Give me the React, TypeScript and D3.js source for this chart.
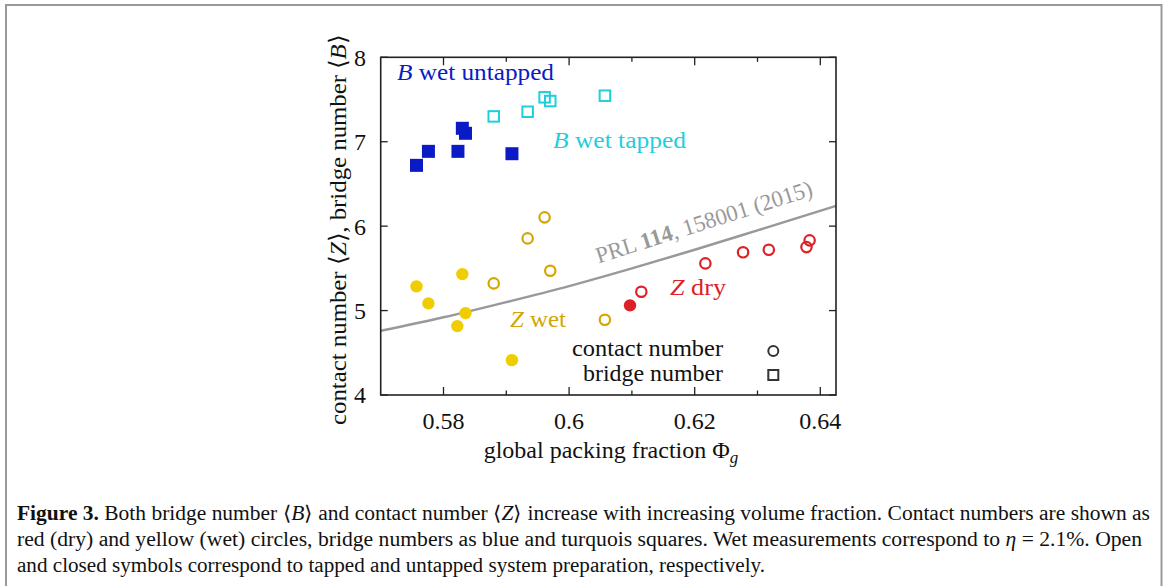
import React from "react";
import * as d3 from "d3";

// ---- data ----
const bUntappedPhi = [0.5757, 0.5776, 0.5823, 0.583, 0.5835, 0.5909];
const bUntappedB = [6.72, 6.886, 6.886, 7.159, 7.1, 6.858];
const bTappedPhi = [0.588, 0.5934, 0.5961, 0.597, 0.6057];
const bTappedB = [7.3, 7.355, 7.526, 7.482, 7.545];
const zWetUntappedPhi = [0.5757, 0.5776, 0.583, 0.5835, 0.5822, 0.5909];
const zWetUntappedZ = [5.287, 5.085, 5.432, 4.97, 4.816, 4.413];
const zWetTappedPhi = [0.588, 0.5934, 0.5961, 0.597, 0.6057];
const zWetTappedZ = [5.322, 5.855, 6.104, 5.472, 4.891];
const zDryUntappedPhi = [0.6097];
const zDryUntappedZ = [5.062];
const zDryTappedPhi = [0.6115, 0.6217, 0.6277, 0.6318, 0.6378, 0.6383];
const zDryTappedZ = [5.223, 5.559, 5.69, 5.72, 5.752, 5.832];
const prlPhi = [0.57, 0.58, 0.59, 0.6, 0.61, 0.62, 0.63, 0.6425];
const prlZ = [4.76, 4.92, 5.1, 5.29, 5.5, 5.72, 5.95, 6.24];

const xTicks = [0.58, 0.59, 0.6, 0.61, 0.62, 0.63, 0.64];
const xTickLabels = ["0.58", "", "0.6", "", "0.62", "", "0.64"];
const yTicks = [4, 5, 6, 7, 8];

const BLUE = "#0a1bc6";
const CYAN = "#1fcfdc";
const YELLOW = "#f0cd00";
const GOLD = "#d4a600";
const RED = "#dc2226";
const GRAY = "#999999";
const SERIF = '"Liberation Serif", "Times New Roman", serif';

export default function App() {
  const L = 380.7, R = 836, T = 57.3, B = 395;
  const x = d3.scaleLinear().domain([0.57, 0.6425]).range([L, R]);
  const y = d3.scaleLinear().domain([4, 8]).range([B, T]);
  const line = d3
    .line<number>()
    .x((_, i) => x(prlPhi[i]))
    .y((d) => y(d))
    .curve(d3.curveMonotoneX);

  const sq = 13;
  const osq = 10.5;

  return (
    <svg
      width={1166}
      height={586}
      style={{ position: "fixed", left: 0, top: 0, background: "#fff", fontFamily: SERIF }}
    >
      <rect x={0} y={0} width={1166} height={586} fill="#fff" />
      <rect x={6} y={5} width={1155.5} height={700} fill="none" stroke={GRAY} strokeWidth={2} />

      {/* PRL curve */}
      <path d={line(prlZ) || ""} fill="none" stroke={GRAY} strokeWidth={2.5} />
      <text transform={`translate(598.5,263.5) rotate(-17.6)`} fontSize={23} fill={GRAY} textLength={226} lengthAdjust="spacingAndGlyphs">
        PRL <tspan fontWeight="bold">114</tspan>, 158001 (2015)
      </text>

      {/* bridge numbers */}
      {bUntappedPhi.map((p, i) => (
        <rect key={"bu" + i} x={x(p) - sq / 2} y={y(bUntappedB[i]) - sq / 2} width={sq} height={sq} fill={BLUE} />
      ))}
      {bTappedPhi.map((p, i) => (
        <rect key={"bt" + i} x={x(p) - osq / 2} y={y(bTappedB[i]) - osq / 2} width={osq} height={osq} fill="none" stroke={CYAN} strokeWidth={2} />
      ))}

      {/* contact numbers */}
      {zWetUntappedPhi.map((p, i) => (
        <circle key={"zwu" + i} cx={x(p)} cy={y(zWetUntappedZ[i])} r={6.2} fill={YELLOW} />
      ))}
      {zWetTappedPhi.map((p, i) => (
        <circle key={"zwt" + i} cx={x(p)} cy={y(zWetTappedZ[i])} r={5.2} fill="none" stroke={GOLD} strokeWidth={2.2} />
      ))}
      {zDryUntappedPhi.map((p, i) => (
        <circle key={"zdu" + i} cx={x(p)} cy={y(zDryUntappedZ[i])} r={6.2} fill={RED} />
      ))}
      {zDryTappedPhi.map((p, i) => (
        <circle key={"zdt" + i} cx={x(p)} cy={y(zDryTappedZ[i])} r={5.2} fill="none" stroke={RED} strokeWidth={2.2} />
      ))}

      {/* labels */}
      <text x={397} y={79.5} fontSize={24} fill={BLUE} textLength={157} lengthAdjust="spacingAndGlyphs">
        <tspan fontStyle="italic">B</tspan> wet untapped
      </text>
      <text x={553} y={147.5} fontSize={24} fill={CYAN} textLength={133} lengthAdjust="spacingAndGlyphs">
        <tspan fontStyle="italic">B</tspan> wet tapped
      </text>
      <text x={510} y={327} fontSize={24} fill={GOLD} textLength={56} lengthAdjust="spacingAndGlyphs">
        <tspan fontStyle="italic">Z</tspan> wet
      </text>
      <text x={670} y={295} fontSize={24} fill={RED} textLength={56} lengthAdjust="spacingAndGlyphs">
        <tspan fontStyle="italic">Z</tspan> dry
      </text>

      {/* legend */}
      <text x={723} y={356} fontSize={24} textAnchor="end" fill="#111" textLength={151} lengthAdjust="spacingAndGlyphs">contact number</text>
      <circle cx={773.3} cy={351} r={5} fill="none" stroke="#333" strokeWidth={2} />
      <text x={723} y={380.5} fontSize={24} textAnchor="end" fill="#111" textLength={140} lengthAdjust="spacingAndGlyphs">bridge number</text>
      <rect x={773.3 - 5} y={375 - 5} width={10} height={10} fill="none" stroke="#333" strokeWidth={2} />

      {/* frame and ticks */}
      <rect x={L} y={T} width={R - L} height={B - T} fill="none" stroke="#222" strokeWidth={1.6} />
      {xTicks.map((t, i) => {
        const len = xTickLabels[i] ? 8 : 4.5;
        return (
          <g key={"xt" + i}>
            <line x1={x(t)} x2={x(t)} y1={B} y2={B - len} stroke="#222" strokeWidth={1.3} />
            <line x1={x(t)} x2={x(t)} y1={T} y2={T + len} stroke="#222" strokeWidth={1.3} />
            {xTickLabels[i] && (
              <text x={x(t)} y={429} fontSize={24} textAnchor="middle" fill="#111">
                {xTickLabels[i]}
              </text>
            )}
          </g>
        );
      })}
      {yTicks.map((t) => (
        <g key={"yt" + t}>
          <line x1={L} x2={L + 7} y1={y(t)} y2={y(t)} stroke="#222" strokeWidth={1.3} />
          <line x1={R} x2={R - 7} y1={y(t)} y2={y(t)} stroke="#222" strokeWidth={1.3} />
          <text x={366} y={y(t)} dy="0.35em" fontSize={24} textAnchor="end" fill="#111">
            {t}
          </text>
        </g>
      ))}

      {/* axis titles */}
      <text x={611} y={458} fontSize={24} textAnchor="middle" fill="#111">
        global packing fraction Φ<tspan fontStyle="italic" fontSize={17} dy={5}>g</tspan>
      </text>
      <text transform="translate(346,230) rotate(-90)" fontSize={24} textAnchor="middle" fill="#111" textLength={390} lengthAdjust="spacingAndGlyphs">
        contact number ⟨<tspan fontStyle="italic">Z</tspan>⟩, bridge number ⟨<tspan fontStyle="italic">B</tspan>⟩
      </text>

      {/* caption */}
      <text x={17} y={520} fontSize={20} fill="#111" textLength={1133} lengthAdjust="spacingAndGlyphs">
        <tspan fontWeight="bold">Figure 3.</tspan> Both bridge number ⟨<tspan fontStyle="italic">B</tspan>⟩ and contact number ⟨<tspan fontStyle="italic">Z</tspan>⟩ increase with increasing volume fraction. Contact numbers are shown as
      </text>
      <text x={17} y={546} fontSize={20} fill="#111" textLength={1125} lengthAdjust="spacingAndGlyphs">
        red (dry) and yellow (wet) circles, bridge numbers as blue and turquois squares. Wet measurements correspond to <tspan fontStyle="italic">η</tspan> = 2.1%. Open
      </text>
      <text x={17} y={572} fontSize={20} fill="#111" textLength={748} lengthAdjust="spacingAndGlyphs">
        and closed symbols correspond to tapped and untapped system preparation, respectively.
      </text>
    </svg>
  );
}
